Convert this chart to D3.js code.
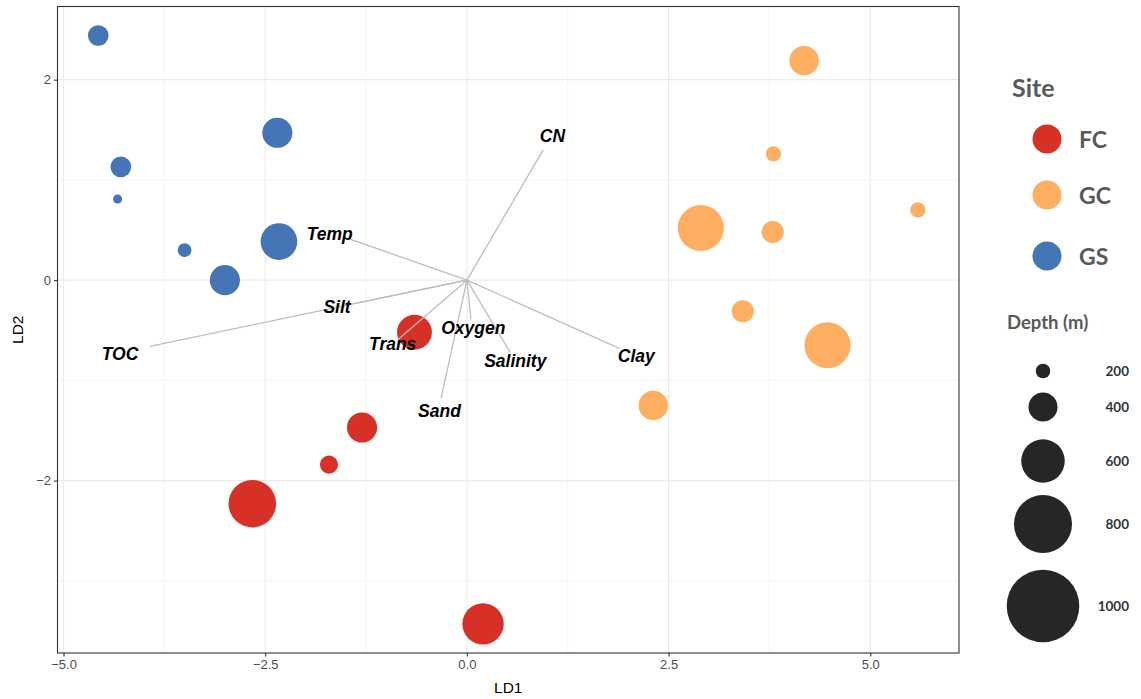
<!DOCTYPE html>
<html>
<head>
<meta charset="utf-8">
<script src="https://cdn.jsdelivr.net/npm/d3@7"></script>
<style>
  html, body { margin: 0; padding: 0; background: #ffffff; }
  svg { display: block; }
</style>
</head>
<body>
<svg id="chart" width="1141" height="699"></svg>
<script>
// LDA scores of each sample (LD1, LD2), with sampling depth in metres
const fcLD1 = [-0.65, -1.30, -1.71, -2.66, 0.20];
const fcLD2 = [-0.52, -1.47, -1.84, -2.23, -3.43];
const fcDepth = [480, 415, 250, 655, 570];

const gcLD1 = [4.18, 3.80, 2.90, 3.79, 5.59, 3.42, 4.47, 2.31];
const gcLD2 = [2.19, 1.26, 0.52, 0.48, 0.70, -0.31, -0.65, -1.25];
const gcDepth = [405, 210, 635, 305, 210, 305, 635, 405];

const gsLD1 = [-4.57, -2.35, -4.29, -4.33, -3.50, -2.33, -3.00];
const gsLD2 = [2.44, 1.47, 1.13, 0.81, 0.30, 0.385, 0.00];
const gsDepth = [285, 415, 285, 125, 190, 505, 415];

// Environmental loadings (arrow tips) and where their names sit
const envVars = ["CN", "Temp", "Silt", "TOC", "Trans", "Oxygen", "Salinity", "Clay", "Sand"];
const envLD1 = [0.946, -1.45, -1.37, -3.93, -0.85, 0.05, 0.537, 1.89, -0.32];
const envLD2 = [1.30, 0.41, -0.23, -0.66, -0.59, -0.39, -0.72, -0.68, -1.18];
const envLabelLD1 = [1.06, -1.70, -1.61, -4.30, -0.92, 0.08, 0.60, 2.10, -0.34];
const envLabelLD2 = [1.44, 0.46, -0.27, -0.74, -0.64, -0.48, -0.81, -0.76, -1.31];

const sites = ["FC", "GC", "GS"];
const siteColors = ["#d73027", "#fdae61", "#4575b4"];

const xTicks = [-5.0, -2.5, 0.0, 2.5, 5.0];
const xMinor = [-3.75, -1.25, 1.25, 3.75];
const yTicks = [-2, 0, 2];
const yMinor = [-3, -1, 1];
const depthBreaks = [200, 400, 600, 800, 1000];

const samples = [];
[[fcLD1, fcLD2, fcDepth], [gcLD1, gcLD2, gcDepth], [gsLD1, gsLD2, gsDepth]].forEach((s, k) => {
  s[0].forEach((v, i) => samples.push({ site: sites[k], ld1: v, ld2: s[1][i], depth: s[2][i] }));
});

const svg = d3.select("#chart");
const panel = { left: 57.5, right: 959, top: 6.5, bottom: 653 };

const x = d3.scaleLinear().domain([-5.075, 6.1]).range([panel.left, panel.right]);
const y = d3.scaleLinear().domain([-3.72, 2.73]).range([panel.bottom, panel.top]);
const r = d3.scaleLinear().domain([0, 1000]).range([0, 36.3]);
const color = d3.scaleOrdinal().domain(sites).range(siteColors);

// grid
const grid = svg.append("g");
grid.selectAll(".xminor").data(xMinor).join("line")
  .attr("x1", d => x(d)).attr("x2", d => x(d)).attr("y1", panel.top).attr("y2", panel.bottom)
  .attr("stroke", "#ebebeb").attr("stroke-width", 0.6);
grid.selectAll(".yminor").data(yMinor).join("line")
  .attr("y1", d => y(d)).attr("y2", d => y(d)).attr("x1", panel.left).attr("x2", panel.right)
  .attr("stroke", "#ebebeb").attr("stroke-width", 0.6);
grid.selectAll(".xmajor").data(xTicks).join("line")
  .attr("x1", d => x(d)).attr("x2", d => x(d)).attr("y1", panel.top).attr("y2", panel.bottom)
  .attr("stroke", "#ebebeb").attr("stroke-width", 1.1);
grid.selectAll(".ymajor").data(yTicks).join("line")
  .attr("y1", d => y(d)).attr("y2", d => y(d)).attr("x1", panel.left).attr("x2", panel.right)
  .attr("stroke", "#ebebeb").attr("stroke-width", 1.1);

// sample points
svg.append("g").selectAll("circle").data(samples).join("circle")
  .attr("cx", d => x(d.ld1)).attr("cy", d => y(d.ld2)).attr("r", d => r(d.depth))
  .attr("fill", d => color(d.site));

// loading arrows
const env = envVars.map((v, i) => ({ name: v, ld1: envLD1[i], ld2: envLD2[i], lx: envLabelLD1[i], ly: envLabelLD2[i] }));
svg.append("g").selectAll("line").data(env).join("line")
  .attr("x1", x(0)).attr("y1", y(0)).attr("x2", d => x(d.ld1)).attr("y2", d => y(d.ld2))
  .attr("stroke", "#bdbdbd").attr("stroke-width", 1.3);
svg.append("g").selectAll("text").data(env).join("text")
  .attr("x", d => x(d.lx)).attr("y", d => y(d.ly))
  .attr("text-anchor", "middle").attr("dominant-baseline", "central")
  .attr("font-family", "Liberation Sans, Arial, sans-serif")
  .attr("font-weight", "bold").attr("font-style", "italic").attr("font-size", 17.5)
  .attr("fill", "#000").text(d => d.name);

// panel border
svg.append("rect").attr("x", panel.left).attr("y", panel.top)
  .attr("width", panel.right - panel.left).attr("height", panel.bottom - panel.top)
  .attr("fill", "none").attr("stroke", "#333333").attr("stroke-width", 1.1);

// axes
const xAxis = svg.append("g").attr("transform", `translate(0,${panel.bottom})`)
  .call(d3.axisBottom(x).tickValues(xTicks).tickSize(3.5).tickPadding(3).tickFormat(d => d3.format(".1f")(d).replace("-", "\u2212")));
const yAxis = svg.append("g").attr("transform", `translate(${panel.left},0)`)
  .call(d3.axisLeft(y).tickValues(yTicks).tickSize(3.5).tickPadding(3).tickFormat(d => String(d).replace("-", "\u2212")));
[xAxis, yAxis].forEach(a => {
  a.select(".domain").remove();
  a.selectAll(".tick line").attr("stroke", "#333333").attr("stroke-width", 1.1);
  a.selectAll(".tick text").attr("fill", "#4d4d4d").attr("font-size", 13)
    .attr("font-family", "Liberation Sans, Arial, sans-serif");
});

svg.append("text").attr("x", (panel.left + panel.right) / 2).attr("y", 693)
  .attr("text-anchor", "middle").attr("font-family", "Liberation Sans, Arial, sans-serif")
  .attr("font-size", 15.5).attr("fill", "#000").text("LD1");
svg.append("text").attr("transform", `translate(23,${(panel.top + panel.bottom) / 2}) rotate(-90)`)
  .attr("text-anchor", "middle").attr("font-family", "Liberation Sans, Arial, sans-serif")
  .attr("font-size", 15.5).attr("fill", "#000").text("LD2");

// legend: site colour
const legFont = "Lato, 'Open Sans', sans-serif";
svg.append("text").attr("x", 1012).attr("y", 97).attr("font-family", legFont)
  .attr("font-weight", "bold").attr("font-size", 25).attr("fill", "#595959").text("Site");
const siteLeg = svg.append("g").selectAll("g").data(sites).join("g")
  .attr("transform", (d, i) => `translate(1047,${[139, 195, 256][i]})`);
siteLeg.append("circle").attr("r", 14.5).attr("fill", d => color(d));
siteLeg.append("text").attr("x", 32).attr("y", 0).attr("dominant-baseline", "central")
  .attr("font-family", legFont).attr("font-weight", "bold").attr("font-size", 23)
  .attr("fill", "#595959").text(d => d);

// legend: depth size
svg.append("text").attr("x", 1007).attr("y", 329).attr("font-family", legFont)
  .attr("font-weight", "bold").attr("font-size", 18.5).attr("fill", "#595959").text("Depth (m)");
const depthY = [371, 407, 461, 524, 606];
const depthLeg = svg.append("g").selectAll("g").data(depthBreaks).join("g")
  .attr("transform", (d, i) => `translate(1043,${depthY[i]})`);
depthLeg.append("circle").attr("r", d => r(d)).attr("fill", "#262626");
depthLeg.append("text").attr("x", 86).attr("y", 0).attr("text-anchor", "end")
  .attr("dominant-baseline", "central").attr("font-family", legFont).attr("font-weight", "bold")
  .attr("font-size", 13.5).attr("fill", "#333333").text(d => d);
</script>
</body>
</html>
